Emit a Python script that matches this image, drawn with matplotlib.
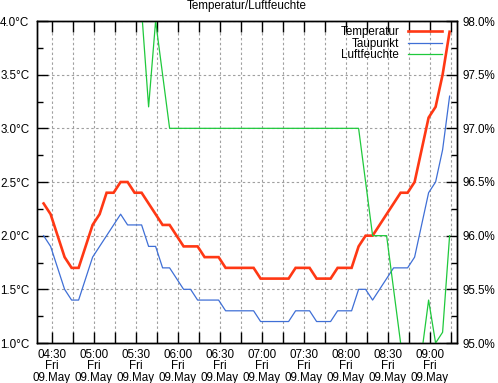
import numpy as np
import pandas as pd
import matplotlib
matplotlib.use("Agg")
import matplotlib.pyplot as plt
import matplotlib.dates as mdates
from matplotlib.ticker import FuncFormatter, MultipleLocator

plt.rcParams['font.family'] = ['Liberation Sans', 'DejaVu Sans']

# ---- data (5-minute readings, 09 May) ----
times = pd.date_range("2025-05-09 04:24", periods=59, freq="5min")

temperatur = [2.3, 2.2, 2.0, 1.8, 1.7, 1.7, 1.9, 2.1, 2.2, 2.4,
              2.4, 2.5, 2.5, 2.4, 2.4, 2.3, 2.2, 2.1, 2.1, 2.0,
              1.9, 1.9, 1.9, 1.8, 1.8, 1.8, 1.7, 1.7, 1.7, 1.7,
              1.7, 1.6, 1.6, 1.6, 1.6, 1.6, 1.7, 1.7, 1.7, 1.6,
              1.6, 1.6, 1.7, 1.7, 1.7, 1.9, 2.0, 2.0, 2.1, 2.2,
              2.3, 2.4, 2.4, 2.5, 2.8, 3.1, 3.2, 3.5, 3.9]

taupunkt = [2.0, 1.9, 1.7, 1.5, 1.4, 1.4, 1.6, 1.8, 1.9, 2.0,
            2.1, 2.2, 2.1, 2.1, 2.1, 1.9, 1.9, 1.7, 1.7, 1.6,
            1.5, 1.5, 1.4, 1.4, 1.4, 1.4, 1.3, 1.3, 1.3, 1.3,
            1.3, 1.2, 1.2, 1.2, 1.2, 1.2, 1.3, 1.3, 1.3, 1.2,
            1.2, 1.2, 1.3, 1.3, 1.3, 1.5, 1.5, 1.4, 1.5, 1.6,
            1.7, 1.7, 1.7, 1.8, 2.1, 2.4, 2.5, 2.8, 3.3]

luftfeuchte = [98.6, 98.6, 98.6, 98.6, 98.6, 98.6, 98.6, 98.6, 98.6, 98.5,
               98.5, 98.4, 98.3, 98.2, 98.1, 97.2, 98.0, 97.5, 97.0, 97.0,
               97.0, 97.0, 97.0, 97.0, 97.0, 97.0, 97.0, 97.0, 97.0, 97.0,
               97.0, 97.0, 97.0, 97.0, 97.0, 97.0, 97.0, 97.0, 97.0, 97.0,
               97.0, 97.0, 97.0, 97.0, 97.0, 97.0, 96.5, 96.0, 96.0, 96.0,
               95.5, 95.0, 94.8, 94.8, 94.9, 95.4, 95.0, 95.1, 96.0]

labels = ["Temperatur", "Taupunkt", "Luftfeuchte"]
colors = ["#ff3814", "#3f6fd6", "#1fc93c"]
title = "Temperatur/Luftfeuchte"

x_start = pd.Timestamp("2025-05-09 04:19:17")
x_end = pd.Timestamp("2025-05-09 09:19:17")

# ---- figure ----
fig = plt.figure(figsize=(4.98, 3.83), dpi=100)
ax = fig.add_axes([37/498, 1-343/383, 420/498, 322/383])
ax2 = ax.twinx()

fs = 8.4
grid_kw = dict(color="#a0a0a0", linewidth=0.8, linestyle=(0, (2.2, 2.2)))

l1, = ax.plot(times, temperatur, color=colors[0], lw=1.9, label=labels[0], solid_joinstyle="miter")
l2, = ax.plot(times, taupunkt, color=colors[1], lw=0.9, label=labels[1])
l3, = ax2.plot(times, luftfeuchte, color=colors[2], lw=0.9, label=labels[2])

ax.set_xlim(x_start, x_end)
ax.set_ylim(1.0, 4.0)
ax2.set_ylim(95.0, 98.0)

ax.yaxis.set_major_locator(MultipleLocator(0.5))
ax.yaxis.set_minor_locator(MultipleLocator(0.25))
ax.yaxis.set_major_formatter(FuncFormatter(lambda v, p: f"{v:.1f}°C"))
ax2.yaxis.set_major_locator(MultipleLocator(0.5))
ax2.yaxis.set_minor_locator(MultipleLocator(0.25))
ax2.yaxis.set_major_formatter(FuncFormatter(lambda v, p: f"{v:.1f}%"))

ax.xaxis.set_major_locator(mdates.MinuteLocator(byminute=[0, 30]))
ax.xaxis.set_minor_locator(mdates.MinuteLocator(byminute=[15, 45]))

def xfmt(v, p):
    d = mdates.num2date(v)
    return d.strftime("%H:%M") + "\n" + d.strftime("%a") + "\n" + d.strftime("%d.%b")

ax.xaxis.set_major_formatter(FuncFormatter(xfmt))

ax.grid(True, which="major", axis="y", **grid_kw)
ax.grid(True, which="both", axis="x", **grid_kw)
ax.set_axisbelow(True)

ax.tick_params(axis="both", which="both", direction="in", top=True, right=False,
               labelsize=fs, color="black")
ax.tick_params(axis="x", which="both", length=8, width=1.0, pad=4)
ax.tick_params(axis="y", which="major", length=8, width=1.0, pad=5.5)
ax.tick_params(axis="y", which="minor", length=4.5, width=1.0)
ax2.tick_params(axis="y", which="both", direction="in", labelsize=fs)
ax2.tick_params(axis="y", which="major", length=8, width=1.0, pad=4.3)
ax2.tick_params(axis="y", which="minor", length=4.5, width=1.0)

for lab in ax.get_xticklabels():
    lab.set_linespacing(0.95)

for a in (ax, ax2):
    for s in a.spines.values():
        s.set_linewidth(1.0)
        s.set_color("black")

leg = ax2.legend([l1, l2, l3], labels, loc="upper right", bbox_to_anchor=(0.965, 0.984),
                 frameon=False, markerfirst=False, fontsize=fs, handlelength=2.9,
                 handletextpad=0.8, labelspacing=-0.04, borderpad=0, borderaxespad=0)

fig.text(247/498, 1-9.3/383, title, ha="center", va="baseline", fontsize=fs)

fig.savefig("out.png", dpi=100)
